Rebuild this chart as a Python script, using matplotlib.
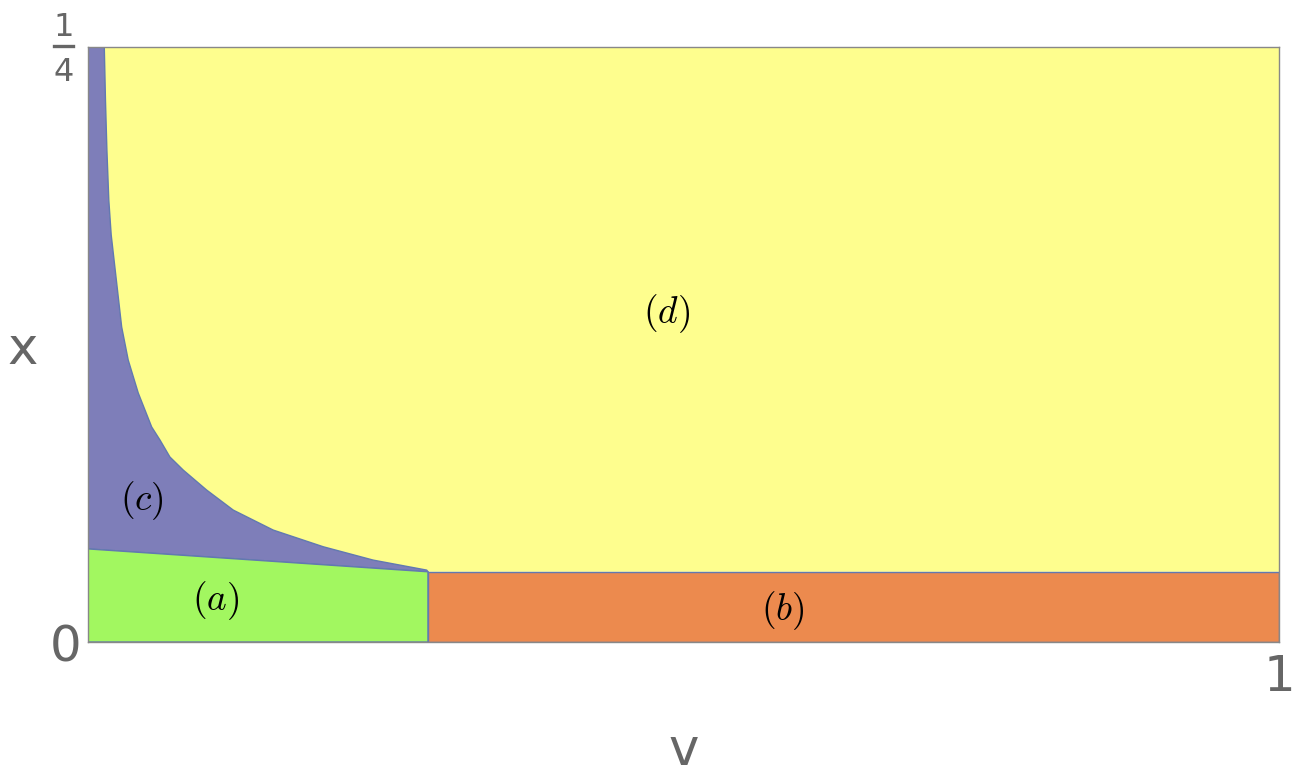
import matplotlib
matplotlib.use("Agg")
import matplotlib.pyplot as plt
from matplotlib.lines import Line2D

# boundary between regions (c) and (d): (v, x) points
curve_v = [0.0137, 0.0147, 0.0159, 0.0175, 0.0195, 0.0241, 0.0283, 0.0338,
           0.0422, 0.0535, 0.0605, 0.0688, 0.0800, 0.0997, 0.1220, 0.1556,
           0.1976, 0.2395, 0.2844, 0.2855]
curve_x = [0.2500, 0.2275, 0.2066, 0.1856, 0.1710, 0.1508, 0.1323, 0.1184,
           0.1046, 0.0903, 0.0848, 0.0777, 0.0722, 0.0638, 0.0554, 0.0470,
           0.0400, 0.0344, 0.0302, 0.0295]

# corner / line values
v_split = 0.2855
x_a_left = 0.0391
x_b_top = 0.0295
v_max = 1.0
x_max = 0.25

region_labels = [r'$(a)$', r'$(b)$', r'$(c)$', r'$(d)$']
label_v = [0.1075, 0.5835, 0.0453, 0.486]
label_x = [0.0172, 0.0134, 0.0596, 0.138]

col_a = '#a2f760'
col_b = '#ec8a4e'
col_c = '#7e7eb9'
col_d = '#fefe8e'
edge = '#6279b0'
gray = '#666666'

plt.rcParams['mathtext.fontset'] = 'cm'

W, H = 1303, 774
fig = plt.figure(figsize=(W / 100, H / 100), dpi=100)
ax = fig.add_axes([0.0675, 0.1705, 0.9141, 0.7692])

# (d) yellow
dv = list(curve_v) + [v_max, v_max]
dx = list(curve_x) + [x_b_top, x_max]
ax.fill(dv, dx, facecolor=col_d, edgecolor='none', zorder=1)

# (c) blue
cv = [0, v_split] + list(curve_v[::-1]) + [0]
cx = [x_a_left, x_b_top] + list(curve_x[::-1]) + [x_max]
ax.fill(cv, cx, facecolor=col_c, edgecolor=edge, linewidth=1.0,
        joinstyle='round', zorder=2)

# (a) green
ax.fill([0, v_split, v_split, 0], [0, 0, x_b_top, x_a_left],
        facecolor=col_a, edgecolor=edge, linewidth=1.0, zorder=2)

# (b) orange
ax.fill([v_split, v_max, v_max, v_split], [0, 0, x_b_top, x_b_top],
        facecolor=col_b, edgecolor=edge, linewidth=1.0, zorder=2)

for t, lv, lx in zip(region_labels, label_v, label_x):
    ax.text(lv, lx, t, fontsize=27, ha='center', va='center', color='black', zorder=5)

ax.set_xlim(0, v_max)
ax.set_ylim(0, x_max)

for s in ax.spines.values():
    s.set_color('#888888')
    s.set_linewidth(1.0)
    s.set_zorder(6)

ax.set_xticks([1])
ax.set_xticklabels(['1'], fontsize=36, color=gray)
ax.set_yticks([0, 0.25])
ax.set_yticklabels(['0', ''], fontsize=36, color=gray)
ax.tick_params(axis='both', length=0)
ax.tick_params(axis='y', pad=5)
ax.tick_params(axis='x', pad=8)

# stacked fraction 1/4 as the top y tick label
fig.text(63.5 / W, 1 - 28 / H, '1', fontsize=23, color=gray, ha='center', va='center')
fig.text(63.5 / W, 1 - 72.5 / H, '4', fontsize=23, color=gray, ha='center', va='center')
fig.add_artist(Line2D([54 / W, 73 / W], [1 - 45.5 / H, 1 - 45.5 / H],
                      color=gray, linewidth=2.4, transform=fig.transFigure))

ax.set_xlabel('v', fontsize=37, color=gray, labelpad=18)
ax.set_ylabel('x', fontsize=37, color=gray, rotation=0, va='center')
ax.yaxis.set_label_coords(-0.055, 0.49)

fig.savefig('out.png', dpi=100)
